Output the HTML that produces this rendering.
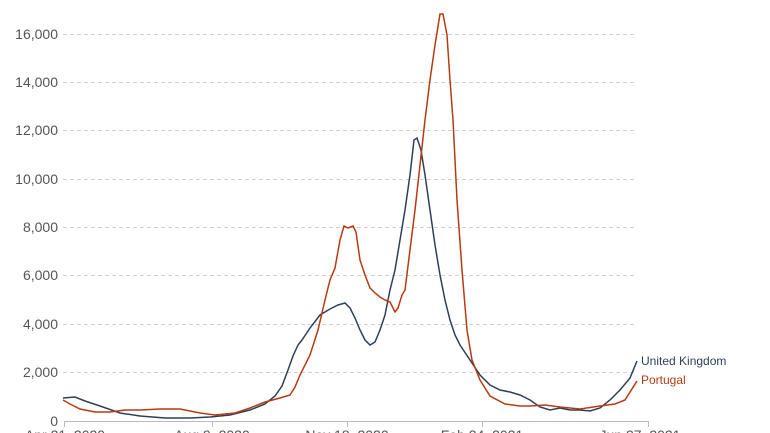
<!DOCTYPE html>
<html><head><meta charset="utf-8"><style>
body{margin:0;background:#fff;}
svg{display:block;font-family:"Liberation Sans",sans-serif;}
</style></head><body>
<svg width="770" height="433" viewBox="0 0 770 433">
<g stroke="#d0d0d0" stroke-dasharray="4,3" stroke-width="1">
<line x1="63" x2="637" y1="372.5" y2="372.5"/>
<line x1="63" x2="637" y1="324.5" y2="324.5"/>
<line x1="63" x2="637" y1="275.5" y2="275.5"/>
<line x1="63" x2="637" y1="227.5" y2="227.5"/>
<line x1="63" x2="637" y1="179.5" y2="179.5"/>
<line x1="63" x2="637" y1="130.5" y2="130.5"/>
<line x1="63" x2="637" y1="82.5" y2="82.5"/>
<line x1="63" x2="637" y1="34.5" y2="34.5"/>
</g>
<g fill="#555" font-size="14" text-anchor="end">
<text x="58" y="426">0</text>
<text x="58" y="377">2,000</text>
<text x="58" y="329">4,000</text>
<text x="58" y="280">6,000</text>
<text x="58" y="232">8,000</text>
<text x="58" y="184">10,000</text>
<text x="58" y="135">12,000</text>
<text x="58" y="87">14,000</text>
<text x="58" y="39">16,000</text>
</g>
<g stroke="#bbb" stroke-width="1">
<line x1="64" x2="649" y1="421.5" y2="421.5"/>
<line x1="64.5" x2="64.5" y1="421" y2="427"/>
<line x1="212.5" x2="212.5" y1="421" y2="427"/>
<line x1="347.5" x2="347.5" y1="421" y2="427"/>
<line x1="482.5" x2="482.5" y1="421" y2="427"/>
<line x1="648.5" x2="648.5" y1="421" y2="427"/>
</g>
<g fill="#555" font-size="14" text-anchor="middle">
<text x="65" y="440">Apr 21, 2020</text>
<text x="212" y="440">Aug 9, 2020</text>
<text x="347" y="440">Nov 18, 2020</text>
<text x="482" y="440">Feb 24, 2021</text>
<text x="640" y="440">Jun 27, 2021</text>
</g>
<polyline fill="none" stroke="#2e3f5c" stroke-width="1.5" points="63,398 75,397 85,401 100,406 120,413 140,416 165,418 190,418 210,417 230,415 250,410 265,404 275,396 282,386 288,370 293,356 298,345 302,340 310,328 320,315 330,309 338,305 345,303 350,308 355,318 360,330 365,340 370,345 375,342 380,330 385,315 390,290 395,270 400,240 405,210 410,175 414,140 417,138 421,150 425,175 430,210 435,245 440,275 445,300 450,320 455,335 460,345 470,360 480,375 490,385 500,390 510,392 520,395 530,400 540,407 550,410 560,408 570,410 580,410 590,411 600,408 610,400 620,390 630,378 637,361"/>
<polyline fill="none" stroke="#b83a12" stroke-width="1.5" points="63,400 70,404 80,409 95,412 110,412 125,410 140,410 160,409 180,409 200,413 215,415 235,413 250,408 265,402 280,398 290,395 295,387 300,375 310,355 318,330 325,300 330,280 335,268 340,240 344,226 348,228 353,226 356,232 360,260 365,275 370,288 375,293 380,297 385,300 390,302 395,312 398,308 402,295 405,290 410,250 415,210 420,165 425,120 430,80 435,45 440,14 443,14 447,35 450,80 453,120 457,200 462,270 467,330 472,360 480,380 490,396 505,404 520,406 530,406 545,405 560,407 580,409 600,406 615,404 625,400 637,381"/>
<text x="641" y="365" font-size="12" fill="#2e3f5c">United Kingdom</text>
<text x="641" y="384" font-size="12" fill="#b83a12">Portugal</text>
</svg>
</body></html>
